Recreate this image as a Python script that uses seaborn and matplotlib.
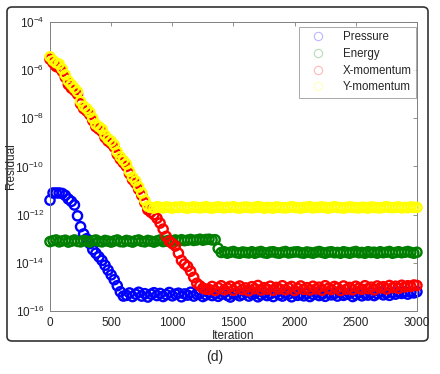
import numpy as np
import matplotlib
matplotlib.use("Agg")
import matplotlib.pyplot as plt
from matplotlib.lines import Line2D
from matplotlib.patches import FancyBboxPatch
from matplotlib.ticker import NullLocator
import seaborn as sns

sns.set_style("white")
plt.rcParams['font.family'] = ['Liberation Sans', 'DejaVu Sans']

# iteration grid (one residual sample every 25 iterations)
iterations = np.arange(0, 3001, 25)

# log10 of the residuals
pressure_log = [
    -11.4, -11.1, -11.1, -11.1, -11.12, -11.2, -11.35, -11.45, -11.6, -12.05,
    -12.5, -12.8, -13.0, -13.2, -13.45, -13.6, -13.75, -13.9, -14.1, -14.3,
    -14.5, -14.7, -14.95, -15.2, -15.38,
    -15.35, -15.25, -15.4, -15.3, -15.22, -15.38, -15.28, -15.42, -15.3, -15.24,
    -15.36, -15.27, -15.4, -15.32, -15.23, -15.37, -15.3, -15.26, -15.41, -15.29,
    -15.34, -15.22, -15.38, -15.3, -15.27, -15.4, -15.33, -15.24, -15.36, -15.28,
    -15.39, -15.3, -15.23, -15.35, -15.42, -15.29, -15.26, -15.37, -15.31, -15.22,
    -15.38, -15.3, -15.27, -15.41, -15.33, -15.25, -15.36, -15.29, -15.4, -15.24,
    -15.32, -15.38, -15.26, -15.3, -15.41, -15.23, -15.35, -15.29, -15.37, -15.27,
    -15.4, -15.31, -15.24, -15.36, -15.3, -15.39, -15.25, -15.33, -15.28, -15.38,
    -15.22, -15.35, -15.3, -15.26, -15.4, -15.32, -15.24, -15.37, -15.29, -15.34,
    -15.25, -15.36, -15.28, -15.21, -15.33, -15.26, -15.35, -15.23, -15.3, -15.22,
    -15.27, -15.2, -15.3, -15.22, -15.25, -15.2,
]
energy_log = [
    -13.12, -13.08, -13.05, -13.13, -13.09, -13.06, -13.14, -13.1, -13.05, -13.11,
    -13.13, -13.07, -13.1, -13.14, -13.08, -13.05, -13.11, -13.13, -13.07, -13.1,
    -13.14, -13.09, -13.05, -13.12, -13.13, -13.07, -13.1, -13.14, -13.08, -13.05,
    -13.11, -13.13, -13.07, -13.1, -13.14, -13.09, -13.05, -13.12, -13.1, -13.06,
    -13.1, -13.05, -13.09, -13.04, -13.08, -13.06, -13.03, -13.07, -13.05, -13.02,
    -13.06, -13.03, -13.02, -13.05, -13.04, -13.4,
    -13.57, -13.54, -13.6, -13.56, -13.53, -13.58, -13.6, -13.55, -13.57, -13.59,
    -13.54, -13.6, -13.56, -13.53, -13.58, -13.6, -13.55, -13.54, -13.58, -13.6,
    -13.56, -13.53, -13.59, -13.57, -13.55, -13.54, -13.58, -13.6, -13.55, -13.57,
    -13.6, -13.56, -13.53, -13.57, -13.6, -13.56, -13.54, -13.58, -13.57, -13.6,
    -13.54, -13.57, -13.6, -13.56, -13.53, -13.58, -13.57, -13.6, -13.54, -13.57,
    -13.56, -13.6, -13.54, -13.58, -13.56, -13.53, -13.6, -13.57, -13.54, -13.58,
    -13.56, -13.53, -13.57, -13.6, -13.56,
]
xmom_log = [
    -5.55, -5.7, -5.85, -5.9, -6.05, -6.3, -6.6, -6.75, -6.85, -7.0,
    -7.4, -7.6, -7.7, -7.85, -8.1, -8.35, -8.45, -8.55, -8.8, -8.95,
    -9.05, -9.2, -9.5, -9.7, -9.85, -10.0, -10.3, -10.55, -10.7, -10.95,
    -11.2, -11.5, -11.8, -11.9, -12.0, -12.15, -12.35, -12.6, -12.9, -13.1,
    -13.2, -13.3, -13.6, -13.9, -14.05, -14.15, -14.35, -14.6, -14.85, -14.95,
    -15.05, -15.1,
    -15.1, -14.98, -15.15, -15.03, -14.95, -15.12, -15.05, -14.97, -15.14, -15.02,
    -14.96, -15.11, -15.04, -15.16, -14.99, -15.07, -14.94, -15.13, -15.03, -15.09,
    -14.97, -15.14, -15.02, -15.08, -14.95, -15.12, -15.04, -14.98, -15.15, -15.06,
    -14.96, -15.1, -15.03, -15.13, -14.97, -15.08, -15.01, -15.14, -14.95, -15.06,
    -15.11, -14.98, -15.04, -15.15, -14.96, -15.09, -15.02, -15.12, -14.97, -15.05,
    -15.1, -14.95, -15.07, -15.01, -15.12, -14.96, -15.04, -14.99, -15.09, -14.94,
    -15.03, -14.97, -15.06, -14.93, -15.0, -14.95, -14.98, -14.92, -14.94,
]
ymom_log = [
    -5.45, -5.6, -5.7, -5.75, -5.95, -6.2, -6.45, -6.6, -6.75, -6.9,
    -7.3, -7.5, -7.6, -7.75, -8.0, -8.25, -8.35, -8.45, -8.7, -8.85,
    -8.95, -9.1, -9.4, -9.6, -9.75, -9.9, -10.2, -10.45, -10.6, -10.85,
    -11.1, -11.4, -11.65,
    -11.7, -11.73, -11.67, -11.7, -11.72, -11.68, -11.7, -11.73, -11.69, -11.7,
    -11.67, -11.71, -11.73, -11.7, -11.68, -11.7, -11.72, -11.7, -11.67, -11.71,
    -11.73, -11.7, -11.68, -11.7, -11.72, -11.69, -11.7, -11.67, -11.71, -11.73,
    -11.7, -11.68, -11.7, -11.72, -11.7, -11.67, -11.69, -11.73, -11.7, -11.71,
    -11.73, -11.68, -11.7, -11.71, -11.72, -11.7, -11.67, -11.7, -11.71, -11.73,
    -11.7, -11.69, -11.67, -11.72, -11.7, -11.7, -11.68, -11.7, -11.73, -11.7,
    -11.67, -11.7, -11.71, -11.73, -11.7, -11.68, -11.7, -11.71, -11.72, -11.7,
    -11.7, -11.73, -11.68, -11.7, -11.71, -11.72, -11.7, -11.67, -11.7, -11.71,
    -11.7, -11.68, -11.72, -11.7, -11.71, -11.68, -11.7, -11.7,
]

names = ["Pressure", "Energy", "X-momentum", "Y-momentum"]
colors = ["#0000ff", "#007f00", "#ff0000", "#ffff00"]
residuals = [pressure_log, energy_log, xmom_log, ymom_log]

fig = plt.figure(figsize=(4.4, 3.74), dpi=100)
ax = fig.add_axes([0.1136, 0.1684, 0.834, 0.773])

# draw order: energy under pressure, then x / y momentum on top
for k in [1, 0, 2, 3]:
    sns.scatterplot(x=iterations, y=10.0 ** np.array(residuals[k]), ax=ax,
                    marker='o', s=44, fc='none', ec=colors[k], linewidth=1.7,
                    clip_on=False, legend=False, zorder=2 + k)

ax.set_yscale('log')
ax.set_ylim(1e-16, 1e-4)
ax.set_xlim(0, 3000)
ax.set_yticks([1e-16, 1e-14, 1e-12, 1e-10, 1e-8, 1e-6, 1e-4])
ax.yaxis.set_minor_locator(NullLocator())
ax.set_xticks([0, 500, 1000, 1500, 2000, 2500, 3000])
ax.tick_params(direction='in', top=True, right=True, length=3, width=0.6,
               labelsize=8.5, color='#808080', pad=4)
for sp in ax.spines.values():
    sp.set_color('#808080')
    sp.set_linewidth(0.7)

ax.set_xlabel("Iteration", fontsize=8.5)
ax.set_ylabel("Residual", fontsize=8.5)
ax.xaxis.set_label_coords(0.5, -0.066)
ax.yaxis.set_label_coords(-0.09, 0.5)

handles = [Line2D([], [], ls='none', marker='o', ms=6, mfc='none', mec=c,
                  mew=0.8, alpha=0.28) for c in colors]
leg = ax.legend(handles, names, loc='upper right', bbox_to_anchor=(0.998, 0.983),
                fontsize=8.3, frameon=True, fancybox=False, edgecolor='#808080',
                borderpad=0.4, labelspacing=0.4, handletextpad=0.8,
                borderaxespad=0, handlelength=2.6)
leg.get_frame().set_linewidth(0.6)

# rounded frame around the panel and the panel caption
fig.patches.append(FancyBboxPatch((7 / 440, 1 - 341 / 374), 421 / 440, 334 / 374,
                                  boxstyle="round,pad=0,rounding_size=0.012",
                                  transform=fig.transFigure, fill=False,
                                  edgecolor='#333333', linewidth=1.2))
fig.text(215 / 440, 1 - 357 / 374, "(d)", ha='center', va='center', fontsize=10)

fig.savefig("out.png", dpi=100)
